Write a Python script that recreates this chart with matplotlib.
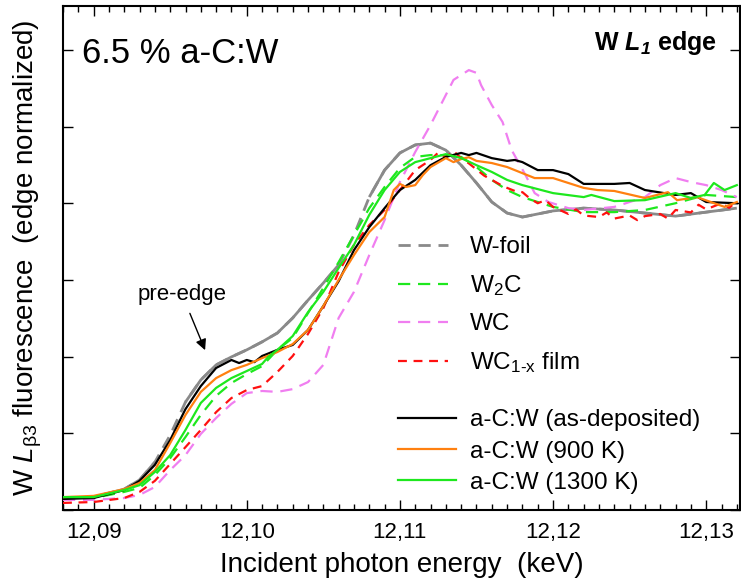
import numpy as np
import matplotlib
matplotlib.use("Agg")
import matplotlib.pyplot as plt
from matplotlib.ticker import MultipleLocator, FuncFormatter

plt.rcParams['font.family'] = ['Liberation Sans', 'DejaVu Sans']
plt.rcParams['mathtext.fontset'] = 'custom'
plt.rcParams['mathtext.rm'] = 'Liberation Sans'
plt.rcParams['mathtext.it'] = 'Liberation Sans:italic'
plt.rcParams['mathtext.bf'] = 'Liberation Sans:bold'
try:
    plt.rcParams['mathtext.bfit'] = 'Liberation Sans:italic:bold'
    HAS_BFIT = True
except KeyError:
    HAS_BFIT = False

# ---------------- data (energy in keV, edge-normalized intensity) ----------------
grid_x = [12.088, 12.090, 12.092, 12.093, 12.094, 12.095, 12.096, 12.097, 12.098, 12.099,
          12.100, 12.101, 12.102, 12.103, 12.104, 12.105, 12.106, 12.107, 12.108, 12.109,
          12.110, 12.111, 12.112, 12.113, 12.114, 12.115, 12.116, 12.117, 12.118, 12.120,
          12.122, 12.124, 12.126, 12.128, 12.130, 12.132]

wfoil_y = [0.039, 0.042, 0.068, 0.098, 0.156, 0.244, 0.352, 0.424, 0.473, 0.499,
           0.522, 0.548, 0.577, 0.626, 0.684, 0.740, 0.799, 0.896, 1.020, 1.108,
           1.164, 1.190, 1.196, 1.173, 1.124, 1.066, 1.004, 0.968, 0.955, 0.975,
           0.984, 0.978, 0.968, 0.958, 0.971, 0.984]

w2c_y = [0.039, 0.039, 0.059, 0.072, 0.114, 0.169, 0.238, 0.310, 0.372, 0.414,
         0.443, 0.469, 0.522, 0.561, 0.642, 0.724, 0.808, 0.896, 0.984, 1.053,
         1.115, 1.151, 1.157, 1.157, 1.151, 1.118, 1.076, 1.043, 1.020, 0.988,
         0.971, 0.971, 0.978, 1.000, 1.027, 1.020]

wc_x = [12.088, 12.090, 12.092, 12.093, 12.094, 12.095, 12.096, 12.097, 12.098, 12.099,
        12.100, 12.101, 12.102, 12.103, 12.104, 12.105, 12.106, 12.107, 12.108, 12.109,
        12.110, 12.111, 12.112, 12.113, 12.1135, 12.1145, 12.1150, 12.1153, 12.1160, 12.1167,
        12.1173, 12.1182, 12.1188, 12.1197, 12.1210, 12.122, 12.124, 12.126, 12.127, 12.128,
        12.129, 12.130, 12.131, 12.132]
wc_y = [0.033, 0.033, 0.039, 0.049, 0.075, 0.130, 0.179, 0.248, 0.300, 0.346,
        0.381, 0.388, 0.385, 0.394, 0.417, 0.473, 0.626, 0.711, 0.831, 0.945,
        1.069, 1.167, 1.255, 1.353, 1.402, 1.434, 1.425, 1.385, 1.320, 1.265,
        1.173, 1.092, 1.033, 1.004, 0.984, 0.978, 0.988, 1.020, 1.059, 1.082,
        1.069, 1.059, 1.043, 1.020]

wc1x_x = [12.088, 12.090, 12.092, 12.093, 12.094, 12.095, 12.096, 12.097, 12.098, 12.099,
          12.100, 12.101, 12.102, 12.103, 12.104, 12.105, 12.106, 12.107, 12.108, 12.109,
          12.110, 12.111, 12.112, 12.1125, 12.113, 12.1135, 12.114, 12.1145, 12.115, 12.1155,
          12.116, 12.1165, 12.117, 12.1175, 12.118, 12.1185, 12.119, 12.1195, 12.120, 12.121,
          12.1215, 12.122, 12.123, 12.1235, 12.124, 12.125, 12.1255, 12.126, 12.127, 12.1275,
          12.128, 12.129, 12.1295, 12.130, 12.131, 12.1315, 12.132]
wc1x_y = [0.023, 0.026, 0.039, 0.059, 0.095, 0.150, 0.205, 0.261, 0.319, 0.365,
          0.391, 0.404, 0.450, 0.502, 0.574, 0.658, 0.776, 0.864, 0.929, 0.978,
          1.043, 1.108, 1.141, 1.165, 1.150, 1.170, 1.147, 1.130, 1.110, 1.090,
          1.076, 1.062, 1.050, 1.040, 1.036, 1.015, 1.000, 1.010, 0.988, 0.965,
          0.980, 0.960, 0.955, 0.970, 0.950, 0.960, 0.945, 0.958, 0.965, 0.950,
          0.978, 0.970, 0.995, 0.980, 1.000, 0.985, 1.007]

asdep_x = [12.088, 12.090, 12.092, 12.093, 12.094, 12.095, 12.096, 12.097, 12.098, 12.099,
           12.0995, 12.100, 12.1005, 12.101, 12.102, 12.103, 12.104, 12.105, 12.106, 12.107,
           12.108, 12.109, 12.110, 12.111, 12.112, 12.113, 12.114, 12.1145, 12.115, 12.116,
           12.117, 12.1175, 12.118, 12.119, 12.120, 12.121, 12.122, 12.124, 12.125, 12.126,
           12.128, 12.129, 12.130, 12.132]
asdep_y = [0.036, 0.039, 0.065, 0.095, 0.147, 0.228, 0.329, 0.404, 0.463, 0.489,
           0.479, 0.489, 0.482, 0.502, 0.522, 0.538, 0.587, 0.665, 0.746, 0.847,
           0.922, 0.984, 1.043, 1.076, 1.124, 1.151, 1.164, 1.157, 1.164, 1.147,
           1.138, 1.141, 1.134, 1.108, 1.108, 1.095, 1.063, 1.063, 1.066, 1.043,
           1.027, 1.033, 1.004, 1.000]

k900_x = [12.088, 12.090, 12.092, 12.093, 12.094, 12.095, 12.096, 12.097, 12.098, 12.099,
          12.100, 12.101, 12.102, 12.103, 12.104, 12.105, 12.106, 12.107, 12.108, 12.109,
          12.1096, 12.110, 12.1104, 12.111, 12.1115, 12.112, 12.113, 12.1135, 12.114, 12.1145,
          12.115, 12.116, 12.117, 12.118, 12.1188, 12.120, 12.121, 12.122, 12.1229, 12.124,
          12.126, 12.1275, 12.1281, 12.1294, 12.1303, 12.1312, 12.132]
k900_y = [0.042, 0.046, 0.068, 0.088, 0.130, 0.218, 0.310, 0.385, 0.430, 0.456,
          0.473, 0.495, 0.515, 0.541, 0.587, 0.665, 0.750, 0.831, 0.906, 0.955,
          1.043, 1.063, 1.053, 1.059, 1.092, 1.118, 1.147, 1.134, 1.144, 1.150,
          1.138, 1.131, 1.118, 1.098, 1.082, 1.082, 1.066, 1.050, 1.043, 1.040,
          1.017, 1.036, 1.010, 1.020, 1.004, 0.988, 1.004]

k1300_x = [12.088, 12.090, 12.092, 12.093, 12.094, 12.095, 12.096, 12.097, 12.098, 12.099,
           12.100, 12.101, 12.1014, 12.102, 12.103, 12.104, 12.105, 12.106, 12.107, 12.108,
           12.109, 12.110, 12.111, 12.112, 12.113, 12.114, 12.115, 12.116, 12.117, 12.118,
           12.120, 12.122, 12.1225, 12.124, 12.126, 12.128, 12.1290, 12.1299, 12.1305, 12.1312,
           12.132]
k1300_y = [0.042, 0.042, 0.065, 0.081, 0.124, 0.179, 0.261, 0.349, 0.398, 0.430,
           0.453, 0.476, 0.499, 0.522, 0.567, 0.645, 0.711, 0.789, 0.864, 0.962,
           1.043, 1.102, 1.134, 1.147, 1.160, 1.147, 1.124, 1.102, 1.076, 1.059,
           1.033, 1.020, 1.027, 1.007, 1.010, 1.033, 1.017, 1.027, 1.066, 1.043,
           1.059]

x_ticks = [12.09, 12.10, 12.11, 12.12, 12.13]

# ---------------- figure ----------------
fig = plt.figure(figsize=(7.41, 5.87), dpi=100)
ax = fig.add_axes([0.085, 0.1312, 0.9135, 0.8586])

GREY = '#8a8a8a'
GREEN = '#1ee81e'
VIOLET = '#f07ef0'
RED = '#ff1010'
ORANGE = '#ff8010'
dash = (5.5, 3.5)

gx = np.array(grid_x)
gy = np.array(wfoil_y)
# solid-looking part of the W-foil trace (dashes only visible on the steepest parts)
gy_solid = gy.copy()
gy_solid[np.isin(gx, [12.095, 12.107])] = np.nan

ax.plot(gx, gy_solid, color=GREY, lw=2.0, solid_capstyle='butt', zorder=2)
ax.plot(gx, gy, color=GREY, lw=2.0, ls='--', dashes=(4.4, 2.8), label='W-foil', zorder=2)
ax.plot(grid_x, w2c_y, color=GREEN, lw=1.6, ls='--', dashes=dash, label=r'W$_2$C', zorder=3)
ax.plot(wc_x, wc_y, color=VIOLET, lw=1.6, ls='--', dashes=dash, label='WC', zorder=3)
ax.plot(wc1x_x, wc1x_y, color=RED, lw=1.6, ls='--', dashes=(4, 3),
        label=r'WC$_{\rm 1\text{-}x}$ film', zorder=4)
ax.plot(asdep_x, asdep_y, color='black', lw=1.6, label='a-C:W (as-deposited)', zorder=5)
ax.plot(k900_x, k900_y, color=ORANGE, lw=1.6, label='a-C:W (900 K)', zorder=5)
ax.plot(k1300_x, k1300_y, color=GREEN, lw=1.6, label='a-C:W (1300 K)', zorder=5)

ax.set_xlim(12.088, 12.1322)
ax.set_ylim(0, 1.643)

ax.set_xticks(x_ticks)
ax.xaxis.set_minor_locator(MultipleLocator(0.001))
ax.xaxis.set_major_formatter(FuncFormatter(lambda v, p: f'{v:.2f}'.replace('.', ',')))
ax.yaxis.set_major_locator(MultipleLocator(0.25))
ax.set_yticklabels([])
ax.tick_params(axis='both', which='both', direction='in', top=True, right=True)
ax.tick_params(axis='both', which='major', length=7, width=1.0, labelsize=16, pad=9)
ax.tick_params(axis='both', which='minor', length=4, width=1.0)
ax.tick_params(axis='y', which='major', left=True, right=True, labelleft=False)
for s in ax.spines.values():
    s.set_linewidth(1.5)

ax.set_xlabel('Incident photon energy  (keV)', fontsize=20, labelpad=6)
ax.set_ylabel(r'W $\mathit{L}_{\mathrm{β3}}$ fluorescence  (edge normalized)', fontsize=20,
              labelpad=14)

ax.text(0.028, 0.887, '6.5 % a-C:W', transform=ax.transAxes, fontsize=25,
        ha='left', va='baseline')
if HAS_BFIT:
    edge_txt = r'W $\mathbfit{L}_{\mathbfit{1}}$ edge'
else:
    edge_txt = r'W $\mathit{L}_{\mathit{1}}$ edge'
ax.text(0.966, 0.913, edge_txt, transform=ax.transAxes, fontsize=18,
        fontweight='bold', ha='right', va='baseline')

ax.annotate('pre-edge', xy=(12.09728, 0.521), xytext=(12.09579, 0.701),
            ha='center', va='center', fontsize=16,
            arrowprops=dict(arrowstyle='-|>', color='black', lw=1.0,
                            mutation_scale=16, shrinkA=4, shrinkB=0))

handles, labels = ax.get_legend_handles_labels()
leg1 = ax.legend(handles[:4], labels[:4], loc='center left',
                 bbox_to_anchor=(0.495, 0.405), frameon=False, fontsize=17.5,
                 handlelength=2.05, handletextpad=0.9, labelspacing=0.62,
                 borderpad=0, borderaxespad=0)
ax.add_artist(leg1)
ax.legend(handles[4:], labels[4:], loc='center left',
          bbox_to_anchor=(0.495, 0.116), frameon=False, fontsize=17.5,
          handlelength=2.4, handletextpad=0.58, labelspacing=0.38,
          borderpad=0, borderaxespad=0)

fig.savefig('out.png', dpi=100)
